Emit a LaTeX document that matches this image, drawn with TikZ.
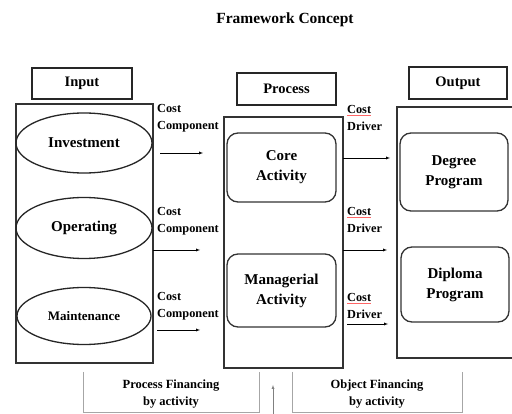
\documentclass[tikz,border=0pt]{standalone}
\usepackage{fontspec}
\setmainfont{Liberation Serif}
\usetikzlibrary{shapes.geometric}
\newcommand{\redmark}[1]{\textcolor{red!60}{\underline{\textcolor{black}{#1}}}}
\begin{document}
\begin{tikzpicture}[x=1pt,y=-1pt,
    labelbox/.style={draw=black!85,line width=1.6pt,inner sep=0pt,font=\bfseries\fontsize{14.5}{17}\selectfont},
    bigbox/.style={draw=black!80,line width=1.4pt,inner sep=0pt},
    phase/.style={ellipse,draw=black!85,line width=1.3pt,inner sep=0pt,font=\bfseries\fontsize{15}{17}\selectfont},
    activity/.style={draw=black!80,line width=1.3pt,rounded corners=11pt,align=center,inner sep=0pt,font=\bfseries\fontsize{15}{20}\selectfont},
    note/.style={anchor=north west,align=left,inner sep=0pt,font=\bfseries\fontsize{12.3}{17}\selectfont},
    finance/.style={align=center,inner sep=0pt,font=\bfseries\fontsize{12.5}{17}\selectfont},
    flow/.style={thin,black,-latex}]
    \useasboundingbox (0,0) rectangle (512,414);
    \fill[white] (0,0) rectangle (512,414);
    \node[font=\bfseries\fontsize{15.5}{17}\selectfont] (Title) at (285,20) {Framework Concept};
    % input column
    \node[labelbox,minimum width=100pt,minimum height=31pt] (InputLabel) at (82,83.5) {Input};
    \node[bigbox,minimum width=137pt,minimum height=259pt] (InputBox) at (84.5,233.5) {};
    \node[phase,minimum width=136pt,minimum height=60pt] (Investment) at (84,143) {Investment};
    \node[phase,minimum width=136pt,minimum height=61pt] (Operating) at (84,228) {Operating};
    \node[phase,minimum width=134pt,minimum height=57pt,font=\bfseries\fontsize{13}{14}\selectfont] (Maintenance) at (84,316) {Maintenance};
    % process column
    \node[labelbox,minimum width=99pt,minimum height=32pt] (ProcessLabel) at (286.5,89) {Process};
    \node[bigbox,minimum width=119pt,minimum height=251pt] (ProcessBox) at (283.5,242.5) {};
    \node[activity,minimum width=109pt,minimum height=69pt] (Core) at (281.5,167.5) {Core\\Activity};
    \node[activity,minimum width=109pt,minimum height=73pt] (Managerial) at (281.5,290.5) {Managerial\\Activity};
    % output column
    \node[labelbox,minimum width=98pt,minimum height=32pt] (OutputLabel) at (458,83) {Output};
    \node[bigbox,minimum width=120pt,minimum height=251pt] (OutputBox) at (457,232.5) {};
    \node[activity,minimum width=108pt,minimum height=78pt] (Degree) at (454,172) {Degree\\Program};
    \node[activity,minimum width=108pt,minimum height=75pt] (Diploma) at (455,284.5) {Diploma\\Program};
    % cost labels
    \node[note] (CompA) at (157,104) {Cost\\Component};
    \node[note] (CompB) at (157,207) {Cost\\Component};
    \node[note] (CompC) at (157,292) {Cost\\Component};
    \node[note] (DrvA) at (347,105) {\redmark{Cost}\\Driver};
    \node[note] (DrvB) at (347,207) {\redmark{Cost}\\Driver};
    \node[note] (DrvC) at (347,293) {\redmark{Cost}\\Driver};
    % arrows between the columns
    \coordinate (CompAOut) at (160,153);
    \coordinate (CompAIn)  at (203,153);
    \coordinate (CompBOut) at (153,250);
    \coordinate (CompBIn)  at (200,250);
    \coordinate (CompCOut) at (157,330);
    \coordinate (CompCIn)  at (200,330);
    \coordinate (DrvAOut)  at (343,158);
    \coordinate (DrvAIn)   at (390,158);
    \coordinate (DrvBOut)  at (343,250);
    \coordinate (DrvBIn)   at (387,250);
    \coordinate (DrvCOut)  at (347,324);
    \coordinate (DrvCIn)   at (388,324);
    \foreach \a in {CompA,CompB,CompC,DrvA,DrvB,DrvC}
        \draw [flow] (\a Out) -- (\a In);
    % financing boxes, open at the top
    \node[finance] (ProcFin) at (171,394) {Process Financing\\by activity};
    \node[finance] (ObjFin) at (377,394) {Object Financing\\by activity};
    \draw [gray!70,line width=1pt] (83,372) -- (83,412) -- (259,412) -- (259,372);
    \draw [gray!70,line width=1pt] (292,372) -- (292,412) -- (462,412) -- (462,372);
    \coordinate (FinBase) at (273,414);
    \coordinate (FinTip)  at (273,385);
    \draw [gray,thin,-latex] (FinBase) -- (FinTip);% feeds back into the process
\end{tikzpicture}
\end{document}
